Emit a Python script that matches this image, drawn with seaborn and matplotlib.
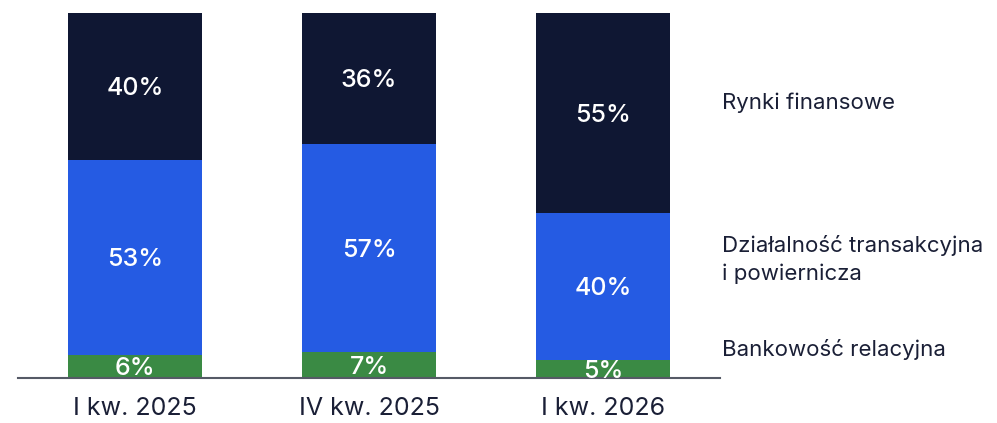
import numpy as np
import pandas as pd
import matplotlib
matplotlib.use("Agg")
import matplotlib.pyplot as plt
import seaborn as sns

# dane (udział w %)
kwartaly = ["I kw. 2025", "IV kw. 2025", "I kw. 2026"]
bankowosc = [6.3, 7.1, 5.0]
transakcyjna = [53.4, 57.0, 40.2]
rynki = [40.3, 35.9, 54.8]

serie = ["Bankowość relacyjna", "Działalność transakcyjna\ni powiernicza", "Rynki finansowe"]
kolory = ["#3a8a44", "#255be3", "#0f1733"]
pozycje_etykiet = [0.077, 0.325, 0.753]  # położenie opisów po prawej (ułamek osi)

sns.set_theme(style="white")
plt.rcParams["font.family"] = ["Inter", "DejaVu Sans"]

df = pd.DataFrame({"kwartal": kwartaly, serie[0]: bankowosc,
                   serie[1]: transakcyjna, serie[2]: rynki})

fig = plt.figure(figsize=(9.97, 4.23), dpi=100)
ax = fig.add_axes([18 / 997, 1 - 378 / 423, (720 - 18) / 997, 365 / 423])

dol = np.zeros(len(kwartaly))
for s, kolor in zip(serie, kolory):
    sns.barplot(data=df, x="kwartal", y=s, bottom=dol, color=kolor,
                width=0.57, saturation=1, ax=ax, linewidth=0)
    for i, v in enumerate(df[s]):
        ax.text(i, dol[i] + v / 2 - 0.6, f"{round(v):.0f}%", ha="center", va="center",
                color="white", fontsize=18, fontweight="medium")
    dol = dol + df[s].values

for s, yp in zip(serie, pozycje_etykiet):
    ax.text(1.003, yp, s, transform=ax.transAxes, ha="left", va="center",
            fontsize=16, color="#1a1f36", clip_on=False, linespacing=1.45)

ax.set_xlim(-0.5, 2.5)
ax.set_ylim(0, 100)
ax.set_xlabel("")
ax.set_ylabel("")
ax.set_yticks([])
for side in ["top", "right", "left"]:
    ax.spines[side].set_visible(False)
ax.spines["bottom"].set_color("#555a66")
ax.spines["bottom"].set_linewidth(1.5)
ax.tick_params(axis="x", length=0, pad=14, labelsize=18, labelcolor="#1a1f36")

fig.savefig("out.png", dpi=100)
